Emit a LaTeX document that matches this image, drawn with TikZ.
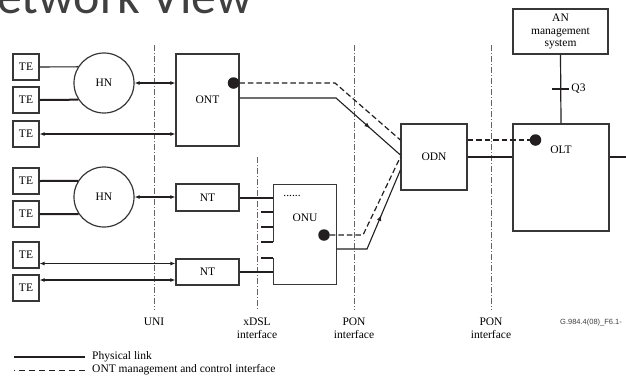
\documentclass[tikz,border=0pt]{standalone}
\usepackage{fontspec}
\setmainfont{Liberation Serif}
\newfontfamily\titlefont{Carlito}
\newfontfamily\notefont{Liberation Sans}
\usetikzlibrary{arrows.meta, calc, decorations.markings}
\definecolor{lineDark}{RGB}{35, 31, 32}
\definecolor{boxGray}{RGB}{55, 55, 55}
\definecolor{ifaceGray}{RGB}{100, 100, 100}
\definecolor{titleGray}{RGB}{64, 64, 64}

\begin{document}
\begin{tikzpicture}[
    x=1pt, y=-1pt,
    font=\fontsize{11.5}{13}\selectfont,
    >={Latex[length=5pt,width=4pt]},
    % Terminal equipment
    tebox/.style={
        draw=boxGray,
        line width=1.2pt,
        minimum width=26pt,
        minimum height=26pt,
        inner sep=0pt
    },
    % Network element block
    netbox/.style={
        draw=boxGray,
        line width=1.2pt,
        inner sep=0pt,
        align=center
    },
    % Home network
    hncircle/.style={
        draw=boxGray,
        circle,
        line width=1.2pt,
        minimum size=60pt,
        inner sep=0pt
    },
    % Management point
    mgmtdot/.style={
        fill=lineDark,
        circle,
        minimum size=11.5pt,
        inner sep=0pt
    },
    % Connector styles
    link/.style={draw=lineDark, line width=1.1pt},
    thicklink/.style={draw=lineDark, line width=2pt},
    mgmt/.style={draw=lineDark, line width=1.2pt, dash pattern=on 5.5pt off 3pt},
    iface/.style={draw=ifaceGray, line width=1pt, dash pattern=on 6pt off 2pt on 1pt off 2pt},
    ifacelabel/.style={anchor=north, align=center, inner sep=0pt},
    midarrow/.style={
        postaction={decorate},
        decoration={markings, mark=at position #1 with {\arrow{Latex[length=6pt,width=4.5pt]}}}
    }
]

    \path[fill=white, use as bounding box] (0,0) rectangle (626,376);

    % Title (cropped)
    \begin{scope}
        \clip (0,0) rectangle (626,376);
        \node[anchor=base west, inner sep=0pt, text=titleGray, font=\titlefont\fontsize{50}{50}\selectfont] (title) at (-3,13) {etwork View};
    \end{scope}

    % Interfaces
    \foreach \xi/\ytop/\name/\txt in {154/45/uni/UNI, 257/157/xdsl/{xDSL\\interface}, 354/45/ponA/{PON\\interface}, 491/45/ponB/{PON\\interface}} {
        \node[ifacelabel] (\name) at (\xi,318) {\txt};
        \draw[iface] (\xi,\ytop) -- ([yshift=8pt]\name.north);
    }

    % Customer side
    \foreach \i/\yy in {1/67, 2/100, 3/134, 4/181, 5/214, 6/255, 7/288}
        \node[tebox] (te\i) at (26,\yy) {TE};
    \node[hncircle] (hn1) at (104,83) {HN};
    \node[hncircle] (hn2) at (104,197) {HN};

    % Network elements
    \node[netbox, minimum width=63pt, minimum height=92pt] (ont) at (207.5,100) {ONT};
    \node[netbox, minimum width=63pt, minimum height=27pt] (nt1) at (207.5,197.5) {NT};
    \node[netbox, minimum width=63pt, minimum height=26pt] (nt2) at (207.5,272) {NT};
    \node[netbox, draw=none, minimum width=62pt, minimum height=99pt] (onu) at (305,234.5) {};
    \node (onutxt) at (305,218) {ONU};
    \node[inner sep=0pt] (onudots) at (292,196) {......};
    \node[netbox, minimum width=66pt, minimum height=66pt] (odn) at (434,157) {ODN};
    \node[netbox, minimum width=96pt, minimum height=107pt] (olt) at (561,177.5) {};
    \node (olttxt) at (561,150) {OLT};
    \node[netbox, minimum width=95pt, minimum height=45pt, font=\fontsize{11.5}{12.5}\selectfont] (anms) at (560.5,31.5) {AN\\management\\system};

    % ONU outline with open port
    \draw[line width=1.2pt, boxGray] (onu.west |- 0,242) -- (onu.north west) -- (onu.north east)
        -- (onu.south east) -- (onu.south west) -- (onu.west |- 0,258);

    % Management points
    \node[mgmtdot] (ontdot) at (233.5,83) {};
    \node[mgmtdot] (onudot) at (324,235) {};
    \node[mgmtdot] (oltdot) at (535.5,140) {};

    % Customer links
    \draw[link] (te1.east) -- (hn1.148);
    \draw[thicklink] (te2.east) -- (hn1.213);
    \draw[thicklink] (te4.east) -- (hn2.148);
    \draw[thicklink] (te5.east) -- (hn2.214);
    \draw[link, <->] (hn1.east) -- (hn1.east -| ont.west);
    \draw[link, <->] (te3.east) -- (te3.east -| ont.west);
    \draw[link, <->] (hn2.east) -- (hn2.east -| nt1.west);
    \coordinate (nt2inA) at ($(nt2.west)+(0,-8.5)$);
    \coordinate (nt2inB) at ($(nt2.west)+(0,8)$);
    \draw[link, <->] (te6.east |- nt2inA) -- (nt2inA);
    \draw[link, <->] (te7.east |- nt2inB) -- (nt2inB);

    % xDSL links into ONU
    \draw[thicklink] (nt1.east) -- (nt1.east -| onu.west);
    \draw[thicklink] (nt2.east) -- (nt2.east -| onu.west);
    \foreach \yy in {212,227}
        \draw[thicklink] (onu.west |- 0,\yy) -- ++(-12,0);
    \foreach \yy in {242,258}
        \draw[link] (onu.west |- 0,\yy) -- ++(-12,0);

    % PON side
    \coordinate (ontbendA) at (335,83);
    \coordinate (ontbendB) at (336,98);
    \coordinate (onubendA) at (363,235);
    \coordinate (onubendB) at (367,249);
    \draw[mgmt] (ontdot) -- (ontbendA) -- (odn.west |- 0,140);
    \draw[link, midarrow=0.78] (ont.east |- 0,98) -- (ontbendB) -- (odn.west |- 0,155);
    \draw[mgmt] (onudot) -- (onubendA) -- (odn.west |- 0,157);
    \draw[link, midarrow=0.58] (onu.east |- 0,249) -- (onubendB) -- (odn.west |- 0,170);

    \draw[thicklink] (odn.east) -- (odn.east -| olt.west);
    \draw[thicklink] (olt.east |- odn.east) -- ++(17,0);
    \draw[mgmt] (odn.east |- oltdot) -- (oltdot);

    % Q3 interface
    \draw[link, line width=1.2pt] (anms.south) -- coordinate (q3pt) (olt.north);
    \draw[thicklink] ($(q3pt)+(-8.5,0)$) -- ($(q3pt)+(8.5,0)$);
    \node[anchor=west, inner sep=0pt] (q3) at ($(q3pt)+(10.5,0)$) {Q3};

    % Figure reference
    \node[anchor=west, inner sep=0pt, font=\notefont\fontsize{7.5}{9}\selectfont, text=black!75] (figref) at (560,323) {G.984.4(08)\_F6.1-};

    % Legend
    \node[anchor=west, inner sep=0pt] (physlbl) at (92,357) {Physical link};
    \node[anchor=west, inner sep=0pt] (mgmtlbl) at (92,370) {ONT management and control interface};
    \draw[link] ([xshift=-7pt]physlbl.west) -- ++(-71,0);
    \draw[mgmt, line width=1pt, dash pattern=on 6pt off 4pt] ([xshift=-7pt]mgmtlbl.west) -- ++(-71,0);

\end{tikzpicture}
\end{document}
